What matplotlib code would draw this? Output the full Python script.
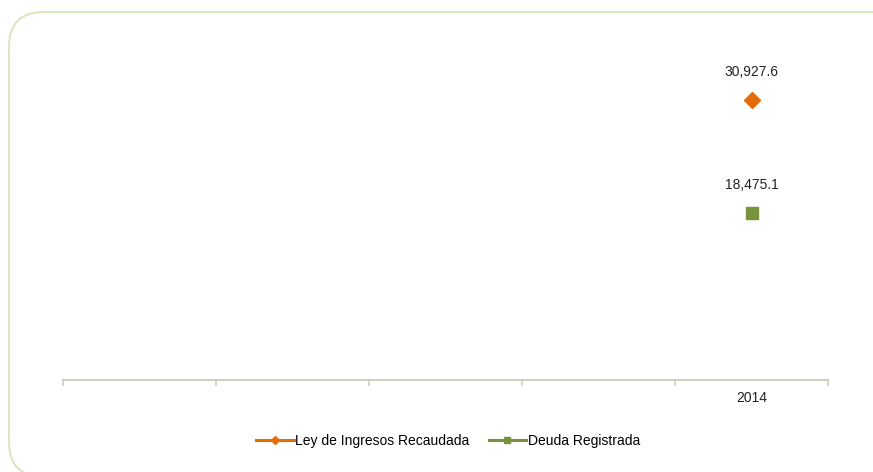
import matplotlib.pyplot as plt
from matplotlib.patches import FancyBboxPatch
from matplotlib.lines import Line2D

plt.rcParams["font.family"] = ["Liberation Sans", "DejaVu Sans"]

categories = ["", "", "", "", "2014"]
ley_ingresos = [None, None, None, None, 30927.6]
deuda = [None, None, None, None, 18475.1]

orange = "#E46C0A"
green = "#77933C"
axis_color = "#CFCFBE"

fig = plt.figure(figsize=(8.73, 4.72), dpi=100)
border = FancyBboxPatch((9 / 873, -5 / 472), 900 / 873, (472 - 7) / 472,
                        boxstyle="round,pad=0,rounding_size=0.04",
                        transform=fig.transFigure, fill=False,
                        edgecolor="#D5E5B8", linewidth=1.3,
                        mutation_aspect=873 / 472)
fig.patches.append(border)

ax = fig.add_axes([63 / 873, 1 - 380 / 472, (828 - 63) / 873, 362 / 472])
x = list(range(len(categories)))

def pts(vals):
    return [(i, v) for i, v in zip(x, vals) if v is not None]

for vals, col, mk, ms in [(ley_ingresos, orange, "D", 8), (deuda, green, "s", 9)]:
    p = pts(vals)
    ax.plot([a for a, _ in p], [b for _, b in p], color=col, marker=mk,
            markersize=ms, linestyle="-", linewidth=2.2)
    for a, b in p:
        ax.annotate(f"{b:,.1f}", (a, b), xytext=(0, 15), textcoords="offset points",
                    ha="center", va="bottom", fontsize=10, color="#222222")

ax.set_xlim(-0.5, len(categories) - 0.5)
ax.set_ylim(0, 40000)
ax.set_xticks([i - 0.5 for i in range(len(categories) + 1)])
ax.set_xticklabels([])
ax.set_xticks(x, minor=True)
ax.set_xticklabels(categories, minor=True, fontsize=10, color="#222222")
ax.tick_params(axis="x", which="major", length=4, width=1.2, color=axis_color, direction="out")
ax.tick_params(axis="x", which="minor", length=0, pad=8)
ax.set_yticks([])
for s in ["top", "right", "left"]:
    ax.spines[s].set_visible(False)
ax.spines["bottom"].set_color(axis_color)
ax.spines["bottom"].set_linewidth(1.5)
ax.patch.set_alpha(0)

handles = [Line2D([], [], color=orange, marker="D", markersize=4, linewidth=2.2),
           Line2D([], [], color=green, marker="s", markersize=5, linewidth=2.2)]
fig.legend(handles, ["Ley de Ingresos Recaudada", "Deuda Registrada"],
           loc="center", bbox_to_anchor=(448 / 873, 1 - 441 / 472), ncol=2,
           frameon=False, fontsize=10, handlelength=2.7, handletextpad=0.1,
           columnspacing=1.4)

fig.savefig("out.png", dpi=100)
